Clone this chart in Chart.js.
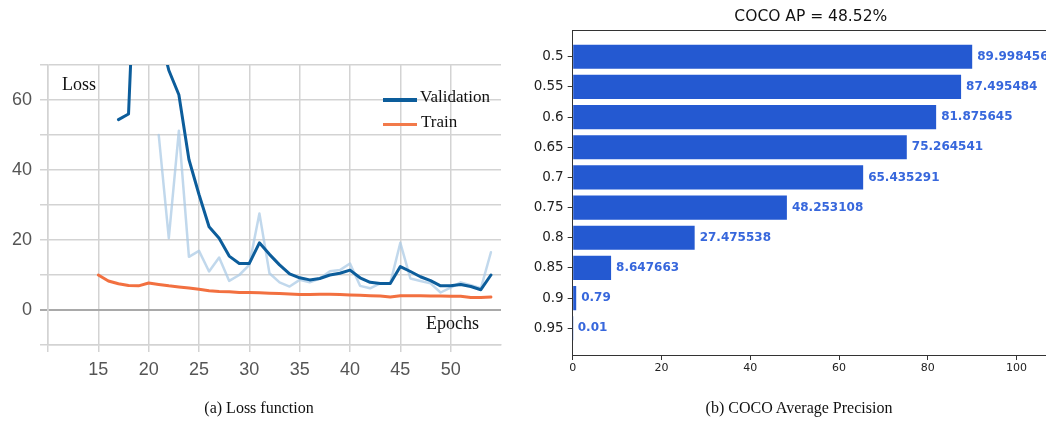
<!DOCTYPE html>
<html>
<head>
<meta charset="utf-8">
<script src="https://cdn.jsdelivr.net/npm/chart.js@4.4.1/dist/chart.umd.min.js"></script>
<style>
  html, body { margin: 0; padding: 0; background: #fff; }
  body { width: 1046px; height: 425px; overflow: hidden; position: relative; }
  canvas { position: absolute; top: 0; }
  #lossCanvas { left: 0; }
  #apCanvas { left: 520px; }
  .serif { position: absolute; font-family: "Liberation Serif", "DejaVu Serif", serif; color: #111;
           white-space: nowrap; line-height: 1; transform: translateY(-50%); }
  .swatch { position: absolute; height: 3.5px; }
  .caption { position: absolute; top: 408px; font-family: "Liberation Serif", "DejaVu Serif", serif;
             font-size: 16px; color: #111; white-space: nowrap; line-height: 1; transform: translate(-50%, -50%); }
  #apTitle { position: absolute; left: 810.8px; top: 16.7px; transform: translate(-50%, -50%);
             font-family: "DejaVu Sans", sans-serif; font-size: 15.5px; color: #111; white-space: nowrap; line-height: 1; }
</style>
</head>
<body>
<canvas id="lossCanvas" width="520" height="400"></canvas>
<canvas id="apCanvas" width="540" height="400"></canvas>

<div class="serif" style="left:62px;top:84px;font-size:18px;">Loss</div>
<div class="serif" style="left:426px;top:322.5px;font-size:18px;">Epochs</div>
<div class="swatch" style="left:383px;top:98.3px;width:34px;background:#0c5d9b;"></div>
<div class="serif" style="left:420px;top:96.3px;font-size:17px;">Validation</div>
<div class="swatch" style="left:383px;top:122.5px;width:34px;background:#f27a4a;"></div>
<div class="serif" style="left:421px;top:120.7px;font-size:17px;">Train</div>

<div id="apTitle">COCO AP = 48.52%</div>
<div class="caption" style="left:259px;">(a) Loss function</div>
<div class="caption" style="left:799px;">(b) COCO Average Precision</div>

<script>
// ---- Loss curves ----
const epochs = [15, 16, 17, 18, 19, 20, 21, 22, 23, 24, 25, 26, 27, 28, 29, 30, 31, 32, 33, 34,
                35, 36, 37, 38, 39, 40, 41, 42, 43, 44, 45, 46, 47, 48, 49, 50, 51, 52, 53, 54];
const trainLoss = [10.0, 8.3, 7.5, 7.0, 6.9, 7.7, 7.3, 6.9, 6.6, 6.3, 5.9, 5.5, 5.3, 5.2, 5.0, 5.0, 4.9, 4.8, 4.7, 4.6,
                   4.4, 4.4, 4.5, 4.5, 4.4, 4.3, 4.2, 4.1, 4.0, 3.7, 4.1, 4.1, 4.1, 4.0, 4.0, 3.9, 3.9, 3.6, 3.6, 3.7];
const validationLoss = [null, null, 54.4, 56.0, 125, 110, 80, 68.5, 61.5, 43.0, 33.0, 23.8, 20.5, 15.4, 13.3, 13.3, 19.2, 15.9, 12.9, 10.3,
                        9.2, 8.6, 9.0, 10.0, 10.5, 11.4, 9.2, 7.9, 7.6, 7.6, 12.4, 11.0, 9.5, 8.4, 6.9, 6.9, 7.3, 6.7, 5.8, 10.0];
const validationLossRaw = [null, null, null, null, null, null, 50.0, 20.5, 51.2, 15.2, 16.9, 11.0, 15.0, 8.3, 10.0, 12.9, 27.6, 10.5, 7.9, 6.7,
                           8.6, 7.9, 9.0, 11.1, 11.4, 13.3, 6.9, 6.2, 7.6, 7.6, 19.2, 9.0, 8.3, 7.6, 5.0, 6.4, 7.9, 7.1, 6.2, 16.5];
const lossXTickLabels = [15, 20, 25, 30, 35, 40, 45, 50];
const lossYTickLabels = [0, 20, 40, 60];

// ---- COCO AP per IoU threshold ----
const iouThresholds = ['0.5', '0.55', '0.6', '0.65', '0.7', '0.75', '0.8', '0.85', '0.9', '0.95'];
const apValues = [89.998456, 87.495484, 81.875645, 75.264541, 65.435291, 48.253108, 27.475538, 8.647663, 0.79, 0.01];
const apXTicks = [0, 20, 40, 60, 80, 100];

const gridGray = '#d3d3d3';

new Chart(document.getElementById('lossCanvas'), {
  type: 'line',
  data: {
    labels: epochs,
    datasets: [
      { label: 'Train', data: trainLoss, borderColor: '#f27040', borderWidth: 3, order: 1 },
      { label: 'Validation', data: validationLoss, borderColor: '#0c5d9b', borderWidth: 3, order: 2 },
      { label: 'Validation (raw)', data: validationLossRaw, borderColor: 'rgba(172,203,229,0.75)', borderWidth: 2.5, order: 3 }
    ]
  },
  options: {
    responsive: false,
    animation: false,
    devicePixelRatio: 1,
    layout: { padding: { top: 65, right: 19, bottom: 0, left: 0 } },
    plugins: { legend: { display: false }, tooltip: { enabled: false } },
    elements: {
      point: { radius: 0 },
      line: { tension: 0, borderCapStyle: 'round', borderJoinStyle: 'round' }
    },
    scales: {
      x: {
        type: 'linear', min: 10, max: 55,
        afterFit(s) { s.height = 55; },
        ticks: {
          stepSize: 5, autoSkip: false, maxRotation: 0, padding: 7, color: '#555',
          font: { family: 'Liberation Sans', size: 18 },
          callback: v => lossXTickLabels.includes(v) ? String(v) : ''
        },
        grid: {
          color: c => (c.tick && c.tick.value === 55) ? 'rgba(0,0,0,0)' : gridGray,
          lineWidth: 1.5, tickLength: 7
        },
        border: { display: true, color: gridGray, width: 1.5 }
      },
      y: {
        min: -10, max: 70,
        afterFit(s) { s.width = 48; },
        ticks: {
          stepSize: 10, padding: 8, color: '#555',
          font: { family: 'Liberation Sans', size: 18 },
          callback: v => lossYTickLabels.includes(v) ? String(v) : ''
        },
        grid: {
          color: c => (c.tick && c.tick.value === 0) ? '#a9a9a9' : gridGray,
          lineWidth: c => (c.tick && c.tick.value === 0) ? 2 : 1.5,
          tickLength: 8
        },
        border: { display: true, color: gridGray, width: 1.5 }
      }
    }
  }
});

// Box around the plot area (top and right spines)
const frame = {
  id: 'frame',
  afterDraw(chart) {
    const { ctx, chartArea: a } = chart;
    ctx.save();
    ctx.strokeStyle = '#333';
    ctx.lineWidth = 1;
    ctx.beginPath();
    ctx.moveTo(a.left, a.top + 0.5);
    ctx.lineTo(a.right, a.top + 0.5);
    ctx.lineTo(a.right, a.bottom);
    ctx.stroke();
    ctx.restore();
  }
};

// Value printed at the end of each bar
const barValues = {
  id: 'barValues',
  afterDatasetsDraw(chart) {
    const { ctx } = chart;
    const meta = chart.getDatasetMeta(0);
    ctx.save();
    ctx.font = 'bold 12px "DejaVu Sans"';
    ctx.fillStyle = '#3767dc';
    ctx.textAlign = 'left';
    ctx.textBaseline = 'middle';
    meta.data.forEach((bar, i) => {
      ctx.fillText(String(apValues[i]), bar.x + 5, bar.y);
    });
    ctx.restore();
  }
};

new Chart(document.getElementById('apCanvas'), {
  type: 'bar',
  data: {
    datasets: [{
      data: apValues.map((v, i) => ({ x: v, y: i })),
      backgroundColor: '#2459d1',
      barPercentage: 0.8,
      categoryPercentage: 1
    }]
  },
  options: {
    indexAxis: 'y',
    responsive: false,
    animation: false,
    devicePixelRatio: 1,
    layout: { padding: { top: 30, right: 11, bottom: 0, left: 0 } },
    plugins: { legend: { display: false }, tooltip: { enabled: false } },
    scales: {
      x: {
        type: 'linear', min: 0, max: 107.3,
        afterFit(s) { s.height = 45; },
        afterBuildTicks(s) { s.ticks = apXTicks.map(v => ({ value: v })); },
        ticks: { color: '#222', padding: 2, maxRotation: 0, font: { family: 'DejaVu Sans', size: 11 } },
        grid: { drawOnChartArea: false, tickLength: 5, color: '#333' },
        border: { display: true, color: '#333', width: 1 }
      },
      y: {
        type: 'linear', reverse: true, min: -0.885, max: 9.885, offset: false,
        afterFit(s) { s.width = 52.7; },
        afterBuildTicks(s) { s.ticks = iouThresholds.map((_, i) => ({ value: i })); },
        ticks: {
          color: '#222', padding: 4, font: { family: 'DejaVu Sans', size: 13.5 },
          callback: v => iouThresholds[v]
        },
        grid: { drawOnChartArea: false, offset: false, tickLength: 5, color: '#333' },
        border: { display: true, color: '#333', width: 1 }
      }
    }
  },
  plugins: [frame, barValues]
});
</script>
</body>
</html>
